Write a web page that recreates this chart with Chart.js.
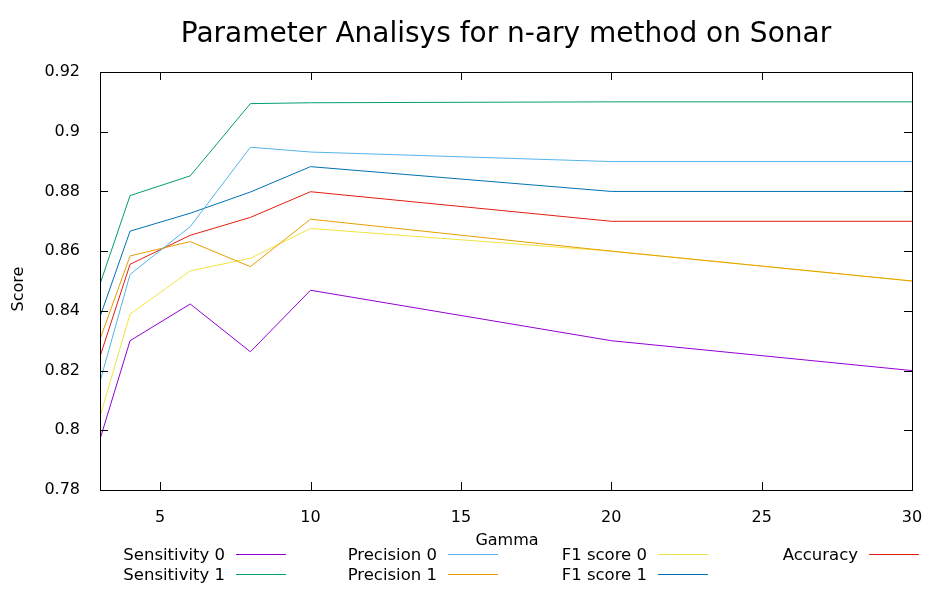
<!DOCTYPE html>
<html>
<head>
<meta charset="utf-8">
<script src="https://cdn.jsdelivr.net/npm/chart.js@4/dist/chart.umd.min.js"></script>
<style>
  html, body { margin: 0; padding: 0; background: #fff; }
  #wrap { width: 944px; height: 590px; }
</style>
</head>
<body>
<div id="wrap"><canvas id="chart" width="944" height="590"></canvas></div>
<script>
const gammas = [3, 4, 6, 8, 10, 20, 30];

const sens0 = [0.797, 0.830, 0.8423, 0.8263, 0.8469, 0.830, 0.820];
const sens1 = [0.849, 0.8786, 0.8852, 0.9094, 0.9097, 0.910, 0.910];
const prec0 = [0.8163, 0.8522, 0.8682, 0.8948, 0.8932, 0.890, 0.890];
const prec1 = [0.8305, 0.8584, 0.8632, 0.8548, 0.8707, 0.860, 0.850];
const f1s0 = [0.8046, 0.8389, 0.8534, 0.8576, 0.8676, 0.860, 0.850];
const f1s1 = [0.838, 0.8667, 0.8727, 0.8798, 0.8883, 0.880, 0.880];
const accuracy = [0.8247, 0.8556, 0.8653, 0.8713, 0.8799, 0.870, 0.870];

const xTicks = [5, 10, 15, 20, 25, 30];
const yTicks = [0.78, 0.80, 0.82, 0.84, 0.86, 0.88, 0.90, 0.92];

const FONT = '"DejaVu Sans", sans-serif';

function series(label, values, color) {
  return {
    label: label,
    data: values.map((v, i) => ({ x: gammas[i], y: v })),
    borderColor: color,
    backgroundColor: color,
    borderWidth: 1,
    pointRadius: 0,
    tension: 0
  };
}

// legend order: column by column
const datasets = [
  series('Sensitivity 0', sens0, '#9400d3'),
  series('Sensitivity 1', sens1, '#009e73'),
  series('Precision 0', prec0, '#56b4e9'),
  series('Precision 1', prec1, '#e69f00'),
  series('F1 score 0', f1s0, '#f0e442'),
  series('F1 score 1', f1s1, '#0072b2'),
  series('Accuracy', accuracy, '#e51e10')
];

const gnuplotLook = {
  id: 'gnuplotLook',
  afterDraw(chart) {
    const c = chart.ctx;
    const a = chart.chartArea;
    const xs = chart.scales.x, ys = chart.scales.y;
    c.save();
    // frame
    c.strokeStyle = '#000';
    c.lineWidth = 1;
    c.strokeRect(Math.round(a.left) + 0.5, Math.round(a.top) + 0.5,
                 Math.round(a.right - a.left), Math.round(a.bottom - a.top));
    // inward ticks, mirrored
    const tl = 8;
    c.beginPath();
    xs.ticks.forEach(t => {
      const px = Math.round(xs.getPixelForValue(t.value)) + 0.5;
      c.moveTo(px, a.bottom); c.lineTo(px, a.bottom - tl);
      c.moveTo(px, a.top); c.lineTo(px, a.top + tl);
    });
    ys.ticks.forEach(t => {
      const py = Math.round(ys.getPixelForValue(t.value)) + 0.5;
      c.moveTo(a.left, py); c.lineTo(a.left + tl, py);
      c.moveTo(a.right, py); c.lineTo(a.right - tl, py);
    });
    c.stroke();

    // title
    c.fillStyle = '#000';
    c.textAlign = 'center';
    c.textBaseline = 'middle';
    c.font = '28px ' + FONT;
    c.fillText('Parameter Analisys for n-ary method on Sonar', 506, 35);

    // axis titles
    c.font = '16px ' + FONT;
    c.fillText('Gamma', 507, 541);
    c.save();
    c.translate(19, 289);
    c.rotate(-Math.PI / 2);
    c.fillText('Score', 0, 0);
    c.restore();

    // legend
    const colEnds = [286, 498, 708, 919];
    const rows = [554, 574];
    c.font = '16.5px ' + FONT;
    c.textAlign = 'right';
    chart.data.datasets.forEach((ds, i) => {
      const col = Math.floor(i / 2), row = i % 2;
      const xe = colEnds[col], y = rows[row];
      c.fillStyle = '#000';
      c.fillText(ds.label, xe - 61, y + 1.5);
      c.strokeStyle = ds.borderColor;
      c.lineWidth = 1;
      c.beginPath();
      c.moveTo(xe - 50, y + 0.5);
      c.lineTo(xe, y + 0.5);
      c.stroke();
    });
    c.restore();
  }
};

new Chart(document.getElementById('chart').getContext('2d'), {
  type: 'line',
  data: { datasets: datasets },
  options: {
    responsive: false,
    animation: false,
    layout: { padding: { left: 0, right: 32, top: 72, bottom: 0 } },
    plugins: { legend: { display: false }, title: { display: false }, tooltip: { enabled: false } },
    scales: {
      x: {
        type: 'linear',
        min: 3,
        max: 30,
        grid: { display: false },
        border: { display: false },
        afterBuildTicks: s => { s.ticks = xTicks.map(v => ({ value: v })); },
        afterFit: s => { s.height = 100; },
        ticks: { color: '#000', font: { family: FONT, size: 16 }, padding: 10, maxRotation: 0,
                 callback: v => String(v) }
      },
      y: {
        type: 'linear',
        min: 0.78,
        max: 0.92,
        grid: { display: false },
        border: { display: false },
        afterBuildTicks: s => { s.ticks = yTicks.map(v => ({ value: v })); },
        afterFit: s => { s.width = 100; },
        ticks: { color: '#000', font: { family: FONT, size: 16 }, padding: 12,
                 callback: v => String(parseFloat(Number(v).toFixed(2))) }
      }
    }
  },
  plugins: [gnuplotLook]
});
</script>
</body>
</html>
